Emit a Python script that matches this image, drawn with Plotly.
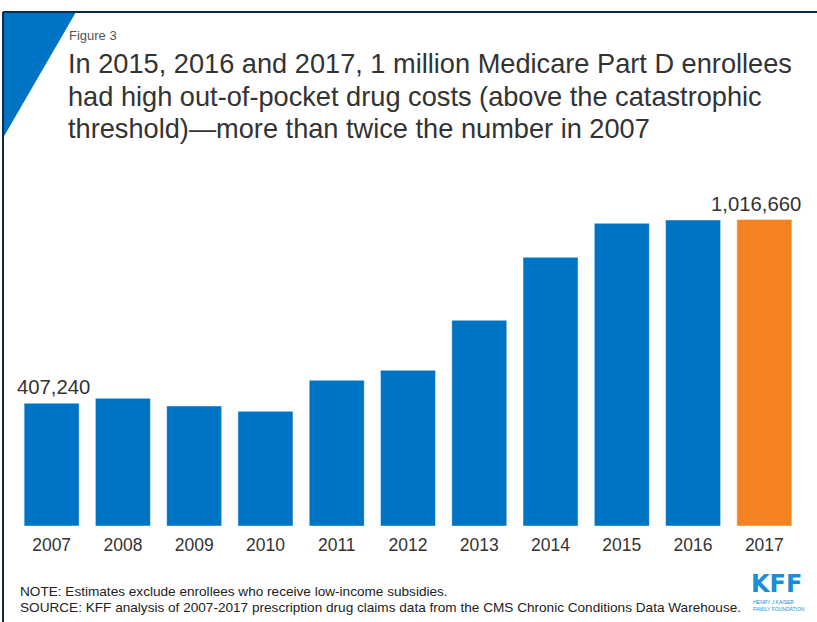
import plotly.graph_objects as go

years = ["2007", "2008", "2009", "2010", "2011", "2012", "2013", "2014", "2015", "2016", "2017"]
enrollees = [407240, 423600, 398000, 380400, 483300, 516500, 682300, 891300, 1004000, 1015000, 1016660]
labeled_years = ["2007", "2017"]

BLUE = "#0074c4"
ORANGE = "#f58220"
colors = [ORANGE if y == "2017" else BLUE for y in years]

W, H = 817, 622
ML, MR, MT, MB = 16, 17, 180, 96
PW, PH = W - ML - MR, H - MT - MB

fig = go.Figure()
fig.add_trace(go.Bar(
    x=years, y=enrollees,
    marker=dict(color=colors, line=dict(color="rgba(255,255,255,0.45)", width=1)),
    hoverinfo="x+y",
))

fig.update_layout(
    width=W, height=H,
    margin=dict(l=ML, r=MR, t=MT, b=MB, autoexpand=False),
    paper_bgcolor="white", plot_bgcolor="white",
    bargap=0.228,
    showlegend=False,
    font=dict(family="Liberation Sans, Arial, sans-serif", color="#333333"),
    xaxis=dict(type="category", categoryorder="array", categoryarray=years,
               range=[-0.5, len(years) - 0.5], autorange=False,
               showgrid=False, showline=False, zeroline=False,
               ticks="outside", ticklen=3, tickcolor="rgba(0,0,0,0)",
               tickfont=dict(size=17.5, color="#333333"), fixedrange=True, automargin=False),
    yaxis=dict(range=[0, 1147700], autorange=False, visible=False, fixedrange=True),
)

# value labels
label_shift = {"2007": 2, "2017": -8}
for yr in labeled_years:
    i = years.index(yr)
    v = enrollees[i]
    fig.add_annotation(x=i, y=v, xref="x", yref="y", text=f"{v:,}",
                       showarrow=False, yanchor="bottom", yshift=3, xshift=label_shift[yr],
                       font=dict(size=20.3, color="#333333"))


def px(x):
    return (x - ML) / PW


def py(y):
    return (H - MB - y) / PH


# frame lines and triangle
fig.add_shape(type="path", xref="paper", yref="paper",
              path=f"M {px(3)} {py(12)} L {px(76)} {py(12)} L {px(3)} {py(138)} Z",
              fillcolor=BLUE, line=dict(width=0))
fig.add_shape(type="line", xref="paper", yref="paper",
              x0=px(3), x1=px(817), y0=py(12), y1=py(12),
              line=dict(color="#0f2a44", width=2))
fig.add_shape(type="line", xref="paper", yref="paper",
              x0=px(3), x1=px(3), y0=py(12), y1=py(622),
              line=dict(color="#0f2a44", width=2))

# titles
fig.add_annotation(xref="paper", yref="paper", x=px(67), y=py(35), xanchor="left", yanchor="middle",
                   text="Figure 3", showarrow=False, font=dict(size=13, color="#555555"))
title_lines = [
    "In 2015, 2016 and 2017, 1 million Medicare Part D enrollees",
    "had high out-of-pocket drug costs (above the catastrophic",
    "threshold)\u2014more than twice the number in 2007",
]
for k, line in enumerate(title_lines):
    fig.add_annotation(xref="paper", yref="paper", x=px(66), y=py(63.5 + 32.5 * k),
                       xanchor="left", yanchor="middle", showarrow=False, text=line,
                       font=dict(size=27.2, color="#333333"))

# notes
notes = [
    "NOTE: Estimates exclude enrollees who receive low-income subsidies.",
    "SOURCE: KFF analysis of 2007-2017 prescription drug claims data from the CMS Chronic Conditions Data Warehouse.",
]
for k, line in enumerate(notes):
    fig.add_annotation(xref="paper", yref="paper", x=px(18), y=py(591 + 16 * k),
                       xanchor="left", yanchor="middle", showarrow=False, text=line,
                       font=dict(size=13.6, color="#222222"))

# logo
fig.add_annotation(xref="paper", yref="paper", x=px(750), y=py(583.5), xanchor="left", yanchor="middle",
                   showarrow=False, text="<b>KFF</b>", borderpad=0,
                   font=dict(size=24, color="#1a8fd6", family="DejaVu Sans, sans-serif"))
logo_sub = ["HENRY J KAISER", "FAMILY FOUNDATION"]
for k, line in enumerate(logo_sub):
    fig.add_annotation(xref="paper", yref="paper", x=px(752), y=py(602 + 6.5 * k),
                       xanchor="left", yanchor="middle", showarrow=False, text=line, borderpad=0,
                       font=dict(size=5, color="#1a8fd6"))

fig.write_html("out.html", config={"displayModeBar": False},
               post_script="document.body.style.margin='0px';")
